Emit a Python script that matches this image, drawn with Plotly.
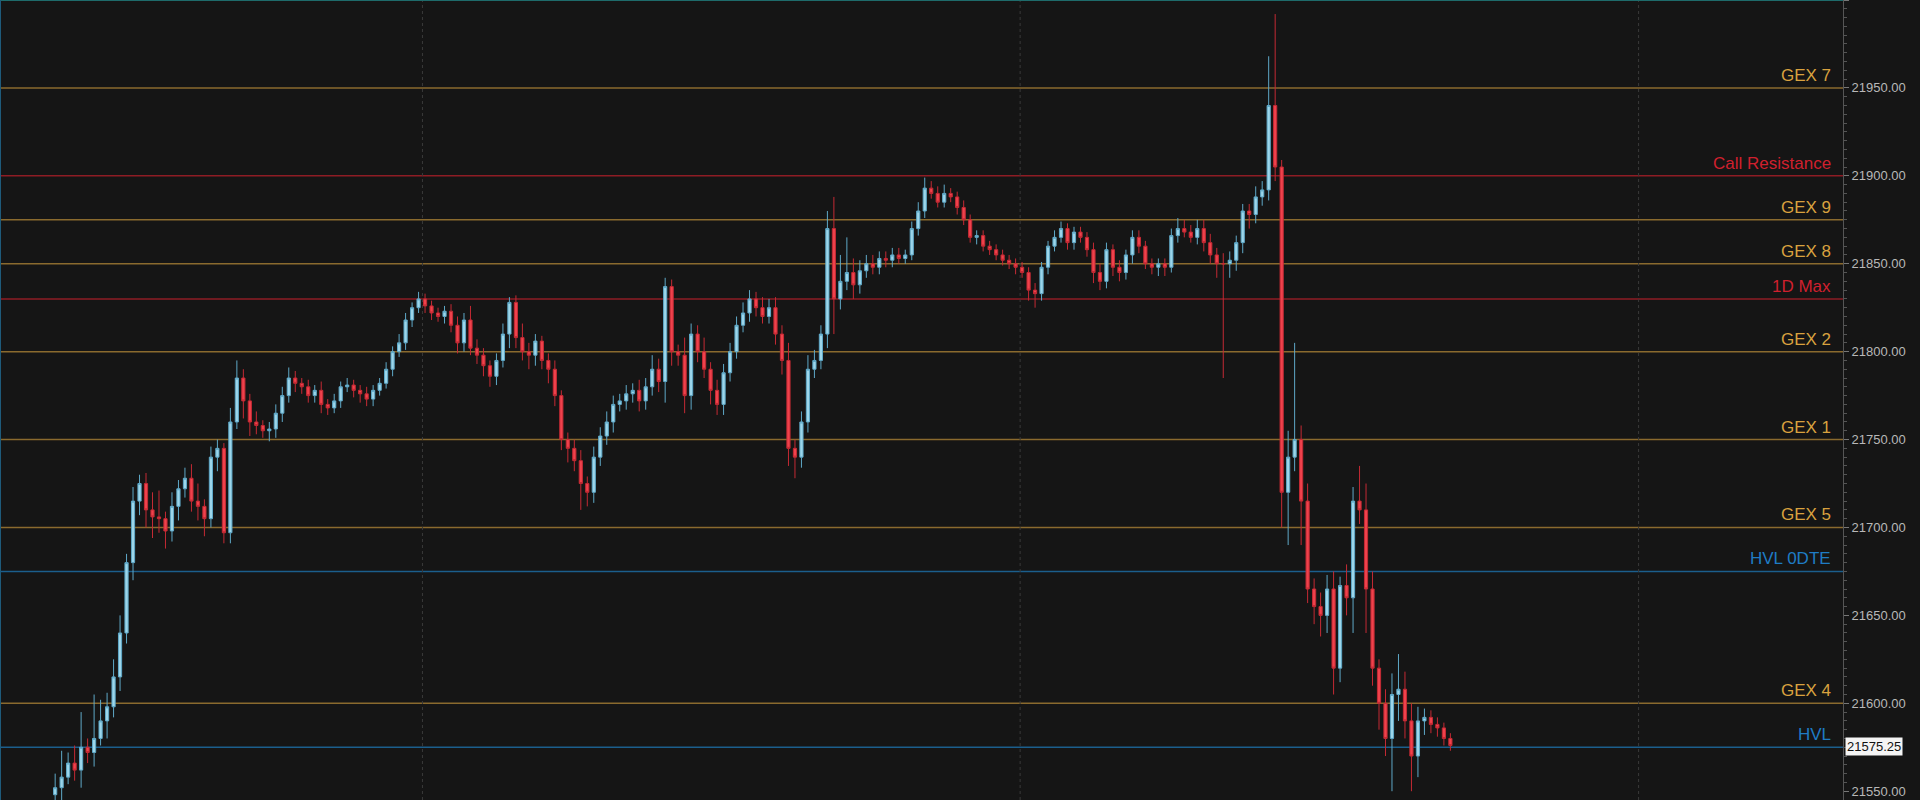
import plotly.graph_objects as go

closes = [
21552,21558,21566,21562,21575,21572,21580,21590,21598,21615,
21640,21680,21715,21725,21710,21706,21705,21698,21712,21722,
21728,21715,21712,21705,21740,21745,21697,21760,21785,21772,
21760,21758,21755,21756,21765,21775,21785,21782,21780,21775,
21778,21770,21768,21772,21780,21781,21778,21776,21773,21778,
21782,21790,21800,21805,21818,21825,21830,21826,21822,21820,
21823,21815,21805,21818,21802,21798,21792,21786,21795,21810,
21828,21808,21800,21798,21806,21795,21790,21775,21750,21745,
21738,21725,21720,21740,21752,21760,21770,21772,21776,21778,
21772,21780,21790,21783,21837,21800,21798,21775,21810,21800,
21790,21778,21770,21788,21800,21815,21822,21830,21825,21820,
21825,21810,21795,21745,21740,21760,21790,21795,21810,21870,
21830,21840,21845,21838,21846,21850,21848,21853,21852,21855,
21853,21855,21870,21880,21893,21890,21885,21890,21888,21882,
21875,21865,21866,21860,21858,21855,21852,21850,21848,21845,
21835,21833,21848,21860,21865,21870,21862,21868,21865,21858,
21845,21840,21858,21848,21845,21855,21865,21860,21850,21848,
21850,21848,21866,21870,21868,21865,21870,21862,21855,21850,
21850,21852,21862,21880,21878,21888,21892,21940,21905,21720,
21740,21750,21715,21665,21655,21650,21665,21620,21667,21660,
21715,21710,21665,21620,21600,21580,21605,21608,21590,21570,
21590,21592,21588,21586,21580,21576]
first_open = 21548
up_wick = [
8,15,6,10,20,5,25,12,8,10, 10,5,8,5,6,10,15,4,8,5, 6,8,10,4,6,5,3,8,10,5,
4,6,3,4,5,5,6,4,3,4, 3,5,3,4,3,4,3,3,4,3, 3,4,3,5,4,3,4,3,3,3,
3,4,5,4,8,5,4,3,4,6, 3,4,8,5,4,3,4,5,3,4, 5,6,4,6,5,6,5,4,5,4,
6,5,8,6,5,4,4,10,6,5, 8,4,6,5,5,5,6,5,4,6, 5,6,5,10,5,6,8,6,5,10,
18,15,20,8,6,5,5,4,4,4, 4,3,4,5,6,4,4,5,3,3, 4,3,3,3,3,3,3,3,3,3,
3,4,3,3,4,4,3,3,3,3, 4,5,4,3,4,3,4,4,3,3, 3,3,4,6,5,4,5,5,5,4,
6,5,4,4,4,6,5,28,52,4, 15,55,8,10,6,8,8,10,5,12, 8,20,15,10,5,8,12,20,10,10,
8,5,4,4,3,3]
dn_wick = [
5,8,4,6,10,6,8,4,10,6, 8,6,10,8,10,12,8,10,6,8, 5,6,8,10,5,8,6,6,4,10,
8,5,4,6,5,5,4,5,4,4, 4,5,4,3,4,3,4,5,4,4, 3,3,4,3,4,4,3,4,4,3,
4,4,6,5,4,5,6,6,5,4, 8,6,5,8,6,5,8,6,6,8, 6,15,8,6,5,5,6,4,5,5,
6,5,5,6,12,8,6,10,8,6, 5,8,6,6,5,4,4,5,5,4, 4,6,8,10,12,6,6,5,5,8,
20,6,5,8,5,4,4,4,4,4, 3,3,3,4,4,3,3,3,3,4, 3,3,4,3,3,3,3,3,4,3,
6,8,4,4,3,3,4,4,3,4, 6,5,4,5,5,4,5,4,3,4, 5,5,3,4,3,3,4,5,5,8,
65,8,6,6,8,5,5,6,8,20, 30,8,25,8,10,12,10,15,8,10, 20,8,25,10,15,10,30,15,10,20,
12,8,5,5,4,3]

level_names = ["GEX 7","Call Resistance","GEX 9","GEX 8","1D Max","GEX 2","GEX 1","GEX 5","HVL 0DTE","GEX 4","HVL"]
level_values = [21950,21900,21875,21850,21830,21800,21750,21700,21675,21600,21575]
level_kinds = ["gex","red","gex","gex","red","gex","gex","gex","blue","gex","blue"]
last_price = 21575.25
y_ticks = [21550,21600,21650,21700,21750,21800,21850,21900,21950,22000]
vgrid_idx = [56.6, 148.7, 244]

opens = [first_open] + closes[:-1]
highs = [max(o, c) + u for o, c, u in zip(opens, closes, up_wick)]
lows = [min(o, c) - d for o, c, d in zip(opens, closes, dn_wick)]
xs = list(range(len(closes)))

line_col = {"gex": "#8a6a2e", "red": "#8e1c24", "blue": "#1b5e8c"}
text_col = {"gex": "#d9a23f", "red": "#d0202e", "blue": "#1f7cc4"}

fig = go.Figure(go.Candlestick(
    x=xs, open=opens, high=highs, low=lows, close=closes,
    increasing=dict(line=dict(color="#5fa9c8", width=1), fillcolor="#9dd6ea"),
    decreasing=dict(line=dict(color="#c42a34", width=1), fillcolor="#f0424c"),
    whiskerwidth=0, showlegend=False, hoverinfo="skip"))

shapes = []
annotations = []
for n, v, k in zip(level_names, level_values, level_kinds):
    shapes.append(dict(type="line", xref="paper", x0=0, x1=1, yref="y", y0=v, y1=v,
                       line=dict(color=line_col[k], width=1.5), layer="below"))
    annotations.append(dict(xref="paper", x=0.9945, y=v, yref="y", text=n, showarrow=False,
                            xanchor="right", yanchor="bottom", yshift=1,
                            font=dict(family="Liberation Sans, Arial", size=17, color=text_col[k])))
for gx in vgrid_idx:
    shapes.append(dict(type="line", xref="x", x0=gx, x1=gx, yref="paper", y0=0, y1=1,
                       line=dict(color="#3a3a3a", width=1, dash="dot"), layer="below"))
shapes.append(dict(type="line", xref="paper", x0=0, x1=1, yref="paper", y0=1, y1=1,
                   line=dict(color="#1e6b6b", width=2)))
shapes.append(dict(type="line", xref="paper", x0=0, x1=0, yref="paper", y0=0, y1=1,
                   line=dict(color="#1e5a7a", width=2)))
annotations.append(dict(xref="paper", x=1.001, y=last_price, yref="y", text=f"{last_price:.2f}",
                        showarrow=False, xanchor="left", bgcolor="#f4f4f4",
                        font=dict(family="Liberation Sans, Arial", size=13, color="#111"),
                        borderpad=1))

fig.update_layout(
    width=1920, height=800, margin=dict(l=0, r=77, t=0, b=0, autoexpand=False),
    paper_bgcolor="#151515", plot_bgcolor="#151515",
    shapes=shapes, annotations=annotations,
    xaxis=dict(range=[-8.5, 275.5], showgrid=False, zeroline=False, showticklabels=False,
               rangeslider=dict(visible=False), fixedrange=True),
    yaxis=dict(side="right", range=[21545, 22000], tickvals=y_ticks, tickformat=".2f",
               automargin=False,
               showgrid=False, zeroline=False, showline=True, linecolor="#555",
               ticks="outside", ticklen=5, tickcolor="#777",
               minor=dict(ticks="outside", ticklen=3, tickcolor="#555", dtick=5),
               tickfont=dict(family="Liberation Sans, Arial", size=13, color="#b8b8b8")),
)
fig.write_html("out.html", config={"displayModeBar": False})
with open("out.html", "r", encoding="utf-8") as f:
    html = f.read()
html = html.replace("<head>", "<head><style>html,body{margin:0;padding:0;background:#151515;overflow:hidden}</style>", 1)
with open("out.html", "w", encoding="utf-8") as f:
    f.write(html)
